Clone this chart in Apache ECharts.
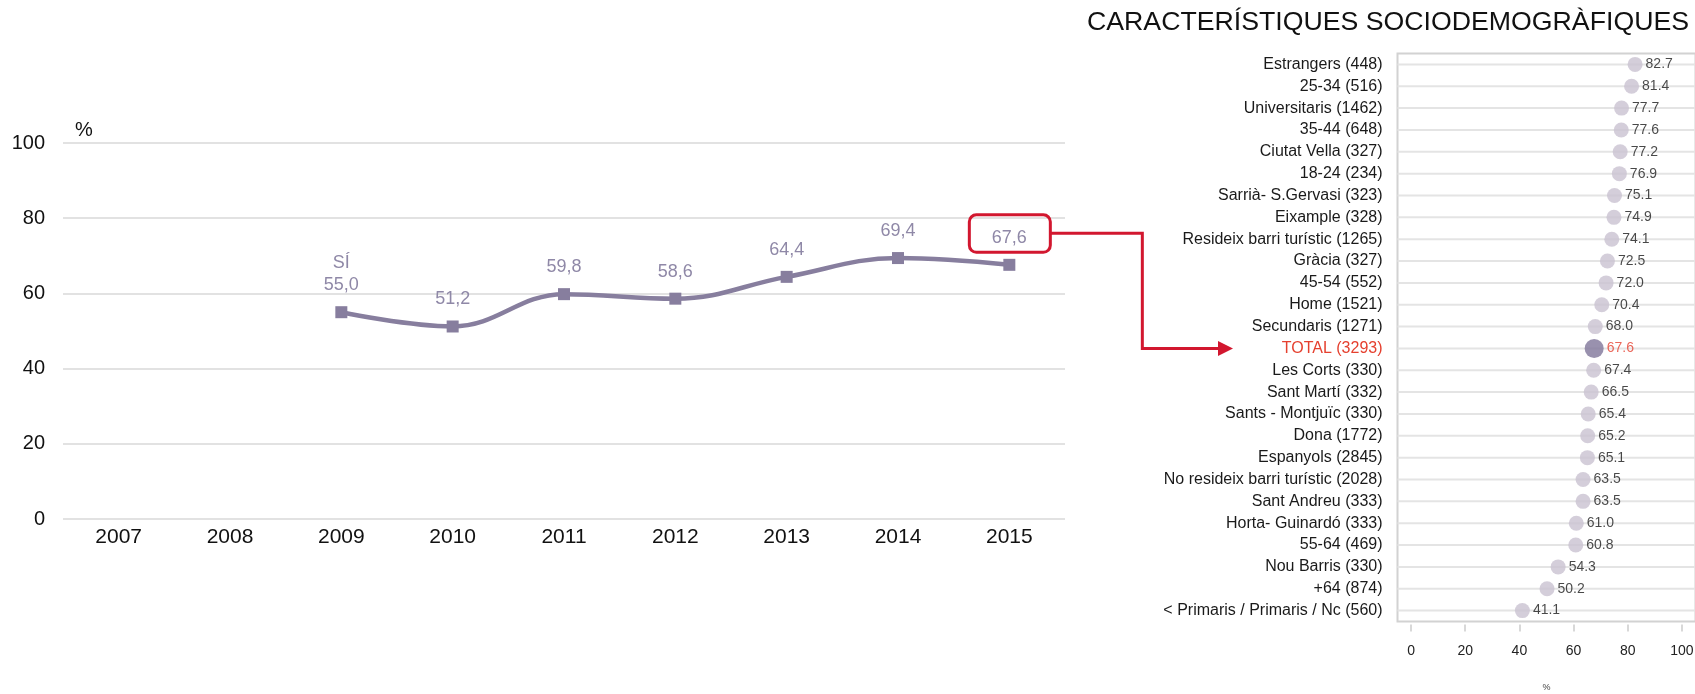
<!DOCTYPE html>
<html>
<head>
<meta charset="utf-8">
<title>Característiques sociodemogràfiques</title>
<script src="https://cdn.jsdelivr.net/npm/echarts@6/dist/echarts.min.js"></script>
<style>
    html, body {margin: 0; padding: 0; background: #fff;}
    #main {width: 1695px; height: 694px;}
</style>
</head>
<body>
<div id="main"></div>
<script>
// evolució (gràfic esquerre)
var years = ['2007', '2008', '2009', '2010', '2011', '2012', '2013', '2014', '2015'];
var siValues = [null, null, 55.0, 51.2, 59.8, 58.6, 64.4, 69.4, 67.6];
var yTicks = [0, 20, 40, 60, 80, 100];

// característiques sociodemogràfiques (gràfic dret)
var groups = [
    'Estrangers (448)', '25-34 (516)', 'Universitaris (1462)', '35-44 (648)',
    'Ciutat Vella (327)', '18-24 (234)', 'Sarrià- S.Gervasi (323)', 'Eixample (328)',
    'Resideix barri turístic (1265)', 'Gràcia (327)', '45-54 (552)', 'Home (1521)',
    'Secundaris (1271)', 'TOTAL (3293)', 'Les Corts (330)', 'Sant Martí (332)',
    'Sants - Montjuïc (330)', 'Dona (1772)', 'Espanyols (2845)',
    'No resideix barri turístic (2028)', 'Sant Andreu (333)', 'Horta- Guinardó (333)',
    '55-64 (469)', 'Nou Barris (330)', '+64 (874)', '< Primaris / Primaris / Nc (560)'
];
var groupValues = [
    82.7, 81.4, 77.7, 77.6, 77.2, 76.9, 75.1, 74.9, 74.1, 72.5, 72.0, 70.4, 68.0,
    67.6, 67.4, 66.5, 65.4, 65.2, 65.1, 63.5, 63.5, 61.0, 60.8, 54.3, 50.2, 41.1
];
var totalName = 'TOTAL (3293)';
var xTicks = [0, 20, 40, 60, 80, 100];

var lineColor = '#877e9e';
var red = '#d2172f';
var totalRed = '#e5402f';

var chart = echarts.init(document.getElementById('main'));

chart.setOption({
    animation: false,
    textStyle: {fontFamily: 'Liberation Sans, Arial, sans-serif'},
    title: {
        text: 'CARACTERÍSTIQUES SOCIODEMOGRÀFIQUES',
        left: 1087,
        top: 9,
        padding: 0,
        textStyle: {fontSize: 26.7, fontWeight: 'normal', color: '#111'}
    },
    grid: [
        {left: 63, top: 143, width: 1002, height: 376, show: false, outerBoundsMode: 'none'},
        {left: 1397.5, top: 53.5, width: 298, height: 568, show: true, outerBoundsMode: 'none',
            borderColor: '#d2d2d2', borderWidth: 2}
    ],
    xAxis: [
        {
            type: 'category',
            gridIndex: 0,
            data: years,
            axisLine: {show: false},
            axisTick: {show: false},
            axisLabel: {fontSize: 21, color: '#111', margin: 8}
        },
        {
            type: 'value',
            gridIndex: 1,
            min: -5,
            max: 105,
            offset: 3,
            splitLine: {show: false},
            axisLine: {show: false},
            axisTick: {show: true, length: 7, customValues: xTicks,
                lineStyle: {color: '#cccccc', width: 1.5}},
            axisLabel: {fontSize: 14, color: '#222', margin: 20, customValues: xTicks},
            name: '%',
            nameLocation: 'middle',
            nameGap: 59,
            nameTextStyle: {fontSize: 9, color: '#444'}
        }
    ],
    yAxis: [
        {
            type: 'value',
            gridIndex: 0,
            min: 0,
            max: 100,
            interval: 20,
            axisLine: {show: false},
            axisTick: {show: false},
            axisLabel: {fontSize: 20, color: '#111', margin: 18},
            splitLine: {lineStyle: {color: '#d9d9d9', width: 1.5}},
            name: '%',
            nameGap: 3,
            nameTextStyle: {fontSize: 20, color: '#111', align: 'left', padding: [0, 0, 0, 12]}
        },
        {
            type: 'category',
            gridIndex: 1,
            data: groups,
            inverse: true,
            axisLine: {show: false},
            axisTick: {show: false},
            splitLine: {show: false},
            axisLabel: {
                fontSize: 16,
                margin: 15,
                color: function (val) {
                    return val === totalName ? totalRed : '#1a1a1a';
                }
            }
        }
    ],
    series: [
        {
            name: 'SÍ',
            type: 'line',
            xAxisIndex: 0,
            yAxisIndex: 0,
            data: siValues,
            smooth: 0.4,
            symbol: 'rect',
            symbolSize: 12,
            lineStyle: {color: lineColor, width: 4.5},
            itemStyle: {color: lineColor},
            label: {
                show: true,
                position: 'top',
                distance: 10,
                fontSize: 18,
                color: '#8f88a7',
                lineHeight: 22,
                formatter: function (p) {
                    var txt = p.value.toFixed(1).replace('.', ',');
                    return p.dataIndex === 2 ? 'SÍ\n' + txt : txt;
                }
            }
        },
        {
            // línies de cada fila
            type: 'bar',
            xAxisIndex: 1,
            yAxisIndex: 1,
            data: groupValues,
            barWidth: 2,
            silent: true,
            itemStyle: {color: 'rgba(0,0,0,0)'},
            showBackground: true,
            backgroundStyle: {color: '#e4e4e4'},
            z: 1
        },
        {
            type: 'scatter',
            xAxisIndex: 1,
            yAxisIndex: 1,
            z: 3,
            data: groupValues.map(function (v, i) {
                var isTotal = groups[i] === totalName;
                return {
                    value: [v, groups[i]],
                    symbolSize: isTotal ? 19 : 15,
                    itemStyle: {color: isTotal ? '#80769a' : '#c9c2d1'},
                    label: {color: isTotal ? totalRed : '#1a1a1a'}
                };
            }),
            label: {
                show: true,
                position: 'right',
                distance: 3,
                fontSize: 14,
                formatter: function (p) {
                    return p.value[0].toFixed(1);
                }
            }
        }
    ]
});

// recuadre i fletxa vermella
var last = years.length - 1;
var p = chart.convertToPixel({seriesIndex: 0}, [years[last], siValues[last]]);
var t = chart.convertToPixel({seriesIndex: 2}, [groupValues[groups.indexOf(totalName)], totalName]);
var boxRight = p[0] + 41;
var boxMid = p[1] - 31.5;
var elbowX = boxRight + 92;
var tipX = 1233;

chart.setOption({
    graphic: [
        {
            type: 'rect',
            shape: {x: p[0] - 40, y: p[1] - 50, width: 81, height: 37.5, r: 7},
            style: {fill: 'none', stroke: red, lineWidth: 3}
        },
        {
            type: 'polyline',
            shape: {points: [[boxRight, boxMid], [elbowX, boxMid], [elbowX, t[1]], [tipX - 12, t[1]]]},
            style: {fill: 'none', stroke: red, lineWidth: 3}
        },
        {
            type: 'polygon',
            shape: {points: [[tipX - 15, t[1] - 7.5], [tipX, t[1]], [tipX - 15, t[1] + 7.5]]},
            style: {fill: red}
        }
    ]
});
</script>
</body>
</html>
